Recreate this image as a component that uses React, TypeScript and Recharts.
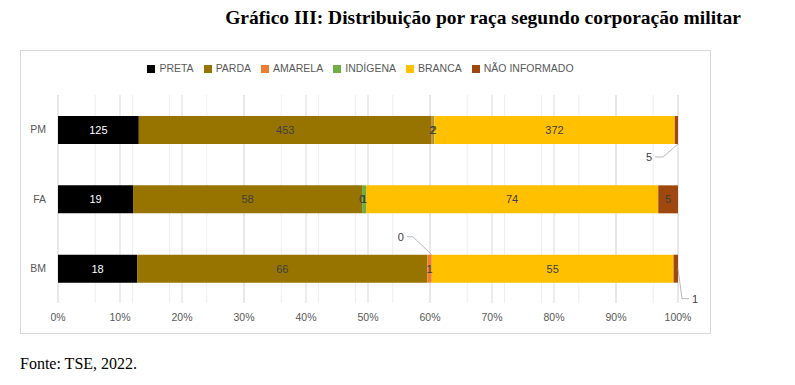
import React from "react";
import { Bar, BarChart, CartesianGrid, LabelList, Legend, XAxis, YAxis } from "recharts";

const categories = ["PM", "FA", "BM"];
const preta = [125, 19, 18];
const parda = [453, 58, 66];
const amarela = [2, 0, 1];
const indigena = [2, 1, 0];
const branca = [372, 74, 55];
const naoInformado = [5, 5, 1];

const majorTicks = [0, 0.1, 0.2, 0.3, 0.4, 0.5, 0.6, 0.7, 0.8, 0.9, 1];
const minorTicks = Array.from({ length: 51 }, (_, i) => i / 50);

const series = [
  { key: "preta", name: "PRETA", color: "#000000", text: "#ffffff" },
  { key: "parda", name: "PARDA", color: "#977400", text: "#404040" },
  { key: "amarela", name: "AMARELA", color: "#ED7D31", text: "#404040" },
  { key: "indigena", name: "INDÍGENA", color: "#70AD47", text: "#404040" },
  { key: "branca", name: "BRANCA", color: "#FFC000", text: "#404040" },
  { key: "naoInformado", name: "NÃO INFORMADO", color: "#9E480E", text: "#404040" },
];

const data = categories.map((name, i) => ({
  name,
  preta: preta[i],
  parda: parda[i],
  amarela: amarela[i],
  indigena: indigena[i],
  branca: branca[i],
  naoInformado: naoInformado[i],
}));

// which labels are pulled out of the bar with a leader line
const callouts: Record<string, Record<number, string>> = {
  naoInformado: { 0: "belowLeft", 2: "belowRight" },
  indigena: { 2: "aboveLeft" },
};

const font = "'Liberation Sans Narrow', 'Liberation Sans', sans-serif";

function makeLabel(key: string, textColor: string) {
  return (props: any) => {
    const x = Number(props.x), y = Number(props.y), w = Number(props.width), h = Number(props.height);
    const kind = callouts[key]?.[props.index];
    const common = { fontSize: 11, fontFamily: font, fill: "#404040" };
    if (kind === "belowLeft") {
      const ax = x + w, ay = y + h;
      return (
        <g>
          <polyline points={`${ax},${ay} ${ax - 15},${ay + 13} ${ax - 23},${ay + 13}`} fill="none" stroke="#a6a6a6" strokeWidth={0.8} />
          <text x={ax - 26} y={ay + 13} dy="0.35em" textAnchor="end" {...common}>{props.value}</text>
        </g>
      );
    }
    if (kind === "belowRight") {
      const ax = x + w, ay = y + h / 2;
      return (
        <g>
          <polyline points={`${ax},${ay} ${ax + 4},${ay + 30} ${ax + 11},${ay + 30}`} fill="none" stroke="#a6a6a6" strokeWidth={0.8} />
          <text x={ax + 14} y={ay + 30} dy="0.35em" textAnchor="start" {...common}>{props.value}</text>
        </g>
      );
    }
    if (kind === "aboveLeft") {
      const ax = x, ay = y;
      return (
        <g>
          <polyline points={`${ax},${ay} ${ax - 19},${ay - 18} ${ax - 25},${ay - 18}`} fill="none" stroke="#a6a6a6" strokeWidth={0.8} />
          <text x={ax - 28} y={ay - 18} dy="0.35em" textAnchor="end" {...common}>{props.value}</text>
        </g>
      );
    }
    return (
      <text x={x + w / 2} y={y + h / 2} dy="0.35em" textAnchor="middle" {...common} fill={textColor}>
        {props.value}
      </text>
    );
  };
}

export default function App() {
  return (
    <div style={{ position: "absolute", left: 0, top: 0, width: 795, height: 385, background: "#fff" }}>
      <div
        style={{
          position: "absolute",
          top: 7,
          right: 54,
          fontFamily: "'Liberation Serif', serif",
          fontWeight: 700,
          fontSize: 19.5,
          color: "#000",
          whiteSpace: "nowrap",
        }}
      >
        Gráfico III: Distribuição por raça segundo corporação militar
      </div>
      <div
        style={{
          position: "absolute",
          left: 20,
          top: 50,
          width: 691,
          height: 284,
          boxSizing: "border-box",
          border: "1px solid #d9d9d9",
        }}
      />
      <div style={{ position: "absolute", left: 20, top: 50 }}>
        <BarChart
          width={691}
          height={284}
          data={data}
          layout="vertical"
          stackOffset="expand"
          barSize={28}
          margin={{ top: 45, right: 33, bottom: 11, left: 0 }}
        >
          <XAxis xAxisId="minor" type="number" domain={[0, 1]} ticks={minorTicks} hide />
          <CartesianGrid xAxisId="minor" horizontal={false} stroke="#eeeeee" />
          <CartesianGrid horizontal={false} stroke="#d9d9d9" />
          <XAxis
            type="number"
            domain={[0, 1]}
            ticks={majorTicks}
            tickFormatter={(v) => `${Math.round(v * 100)}%`}
            axisLine={false}
            tickLine={false}
            tickSize={0}
            tickMargin={11}
            height={20}
            tick={{ fill: "#595959", fontSize: 10.5, fontFamily: font }}
          />
          <YAxis
            type="category"
            dataKey="name"
            width={38}
            axisLine={false}
            tickLine={false}
            tickSize={0}
            tickMargin={12}
            tick={{ fill: "#595959", fontSize: 10.5, fontFamily: font }}
          />
          <Legend
            verticalAlign="middle"
            align="center"
            iconType="square"
            iconSize={8}
            itemSorter={(item: any) => series.findIndex((s) => s.name === item.value)}
            wrapperStyle={{ top: 12, left: 0, width: 691, fontFamily: font, fontSize: 10.5 }}
            formatter={(value) => <span style={{ color: "#595959" }}>{value}</span>}
          />
          {series.map((s) => (
            <Bar
              key={s.key}
              dataKey={s.key}
              name={s.name}
              stackId="a"
              fill={s.color}
              minPointSize={0.01}
              isAnimationActive={false}
            >
              <LabelList dataKey={s.key} content={makeLabel(s.key, s.text)} />
            </Bar>
          ))}
        </BarChart>
      </div>
      <div
        style={{
          position: "absolute",
          left: 20,
          top: 355,
          fontFamily: "'Liberation Serif', serif",
          fontSize: 16,
          color: "#000",
        }}
      >
        Fonte: TSE, 2022.
      </div>
    </div>
  );
}
